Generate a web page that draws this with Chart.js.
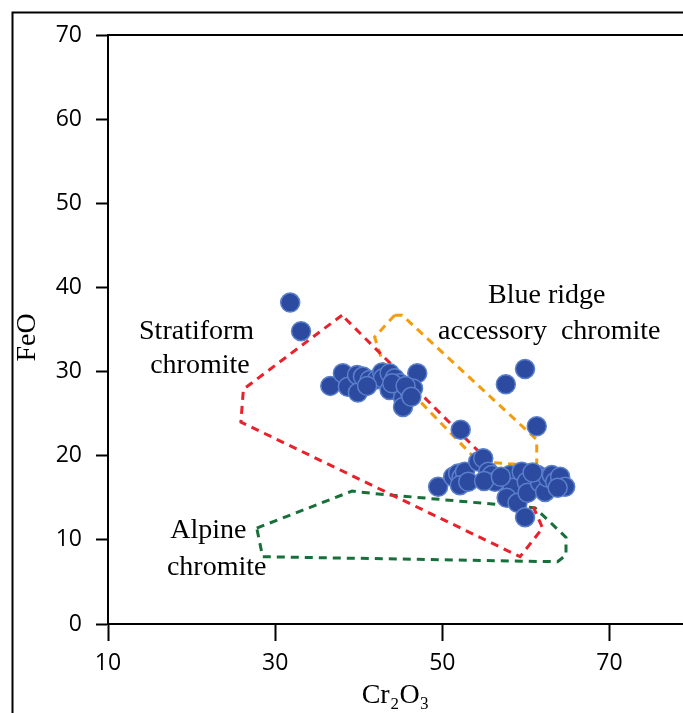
<!DOCTYPE html>
<html>
<head>
<meta charset="utf-8">
<script src="https://cdn.jsdelivr.net/npm/chart.js@4.4.0/dist/chart.umd.min.js"></script>
<style>
  html, body { margin: 0; padding: 0; background: #fff; overflow: hidden; }
  #wrap { width: 683px; height: 713px; }
</style>
</head>
<body>
<div id="wrap"><canvas id="c" width="683" height="713"></canvas></div>
<script>
// ---- Data (Cr2O3 wt%, FeO wt%) ----
const xTicks = [10, 30, 50, 70];
const yTicks = [0, 10, 20, 30, 40, 50, 60, 70];
const xTitle = 'Cr₂O₃';
const yTitle = 'FeO';

const sampleCr2O3 = [
  31.8, 33.1, 52.2, 57.6, 59.9, 61.3,
  36.6, 38.1, 38.7, 39.8, 39.9, 40.5, 41.3, 42.2, 42.8, 42.9, 43.7, 44.3, 43.7, 44.9,
  45.3, 46.1, 45.3, 47.0, 46.5, 41.0, 44.0, 45.6, 46.3,
  49.5, 51.3, 51.9, 52.3, 52.7, 52.1, 53.1, 54.3, 54.9, 55.5, 55.9, 56.3, 58.1, 58.4,
  57.7, 59.0, 59.9, 59.5, 60.1, 60.2, 61.4, 61.7, 62.3, 62.6, 63.1, 63.5, 64.1, 64.7,
  63.8, 55.0, 57.0, 60.8
];
const sampleFeO = [
  38.2, 34.8, 23.1, 28.5, 30.3, 23.5,
  28.3, 29.8, 28.2, 29.6, 27.5, 29.4, 29.0, 29.1, 29.9, 29.2, 29.8, 29.2, 27.8, 28.6,
  26.9, 27.6, 25.8, 29.8, 28.0, 28.3, 28.6, 28.3, 27.0,
  16.3, 17.5, 17.9, 17.4, 18.1, 16.5, 16.9, 19.3, 19.7, 18.1, 17.7, 16.9, 17.7, 16.2,
  15.0, 14.4, 12.7, 18.1, 16.9, 15.6, 17.7, 16.8, 15.7, 17.4, 17.7, 16.9, 17.5, 16.3,
  16.2, 17.0, 17.5, 18.0
];

// Field outlines (closed polygons)
const stratiformCr2O3 = [38.0, 26.2, 25.9, 59.3, 62.0, 60.8, 38.0];
const stratiformFeO   = [36.7, 27.9, 24.0,  8.0, 11.4, 14.1, 36.7];

const blueRidgeCr2O3 = [44.3, 41.9, 42.9, 54.3, 61.3, 61.3, 45.2, 44.3];
const blueRidgeFeO   = [36.7, 34.1, 31.0, 19.3, 18.8, 21.9, 36.7, 36.7];

const alpineCr2O3 = [27.8, 39.2, 41.9, 61.1, 64.8, 64.8, 63.8, 28.5, 27.8];
const alpineFeO   = [11.4, 15.8, 15.5, 13.8, 10.3,  8.2,  7.4,  8.0, 11.4];

const zip = (xs, ys) => xs.map((x, i) => ({ x: x, y: ys[i] }));

const fieldLabels = [
  { text: 'Stratiform', x: 20.6, y: 34.8 },
  { text: 'chromite', x: 21.0, y: 30.7 },
  { text: 'Blue ridge', x: 62.5, y: 39.0 },
  { text: 'accessory  chromite', x: 62.8, y: 34.8 },
  { text: 'Alpine', x: 22.0, y: 11.05 },
  { text: 'chromite', x: 23.0, y: 6.66 }
];

const serif = '28px "Liberation Serif", "Times New Roman", serif';

const decor = {
  id: 'decor',
  beforeDraw(chart) {
    const ctx = chart.ctx;
    ctx.save();
    ctx.strokeStyle = '#000';
    ctx.lineWidth = 2;
    ctx.beginPath();
    ctx.moveTo(12.5, 713);
    ctx.lineTo(12.5, 12.5);
    ctx.lineTo(683, 12.5);
    ctx.stroke();
    ctx.restore();
  },
  afterDraw(chart) {
    const ctx = chart.ctx;
    const a = chart.chartArea;
    ctx.save();
    ctx.strokeStyle = '#000';
    ctx.lineWidth = 2;
    ctx.beginPath();
    ctx.moveTo(a.left, a.top);
    ctx.lineTo(a.right, a.top);
    ctx.stroke();
    const xs = chart.scales.x, ys = chart.scales.y;
    ctx.fillStyle = '#000';
    ctx.font = serif;
    ctx.textAlign = 'center';
    ctx.textBaseline = 'middle';
    fieldLabels.forEach(l => {
      ctx.fillText(l.text, xs.getPixelForValue(l.x), ys.getPixelForValue(l.y));
    });
    // y-axis title, slightly below the axis centre as in the original
    ctx.translate(28, (a.top + a.bottom) / 2 + 8);
    ctx.rotate(-Math.PI / 2);
    ctx.fillText(yTitle, 0, 0);
    ctx.restore();
  }
};

const dash = [8, 6];
new Chart(document.getElementById('c'), {
  type: 'scatter',
  data: {
    datasets: [
      {
        label: 'Samples',
        data: zip(sampleCr2O3, sampleFeO),
        backgroundColor: '#2C4A9F',
        borderColor: '#5A7FCB',
        borderWidth: 1.5,
        pointRadius: 9.5,
        pointHoverRadius: 9.5,
        order: 0
      },
      {
        label: 'Stratiform',
        data: zip(stratiformCr2O3, stratiformFeO),
        showLine: true, pointRadius: 0, borderColor: '#E8212B', borderWidth: 3,
        borderDash: dash, fill: false, order: 1
      },
      {
        label: 'Blue ridge',
        data: zip(blueRidgeCr2O3, blueRidgeFeO),
        showLine: true, pointRadius: 0, borderColor: '#F39C0C', borderWidth: 3,
        borderDash: dash, fill: false, order: 1
      },
      {
        label: 'Alpine',
        data: zip(alpineCr2O3, alpineFeO),
        showLine: true, pointRadius: 0, borderColor: '#17703A', borderWidth: 3,
        borderDash: dash, fill: false, order: 1
      }
    ]
  },
  options: {
    responsive: false,
    animation: false,
    events: [],
    layout: { autoPadding: false, padding: { top: 35, left: 0, right: 0, bottom: 0 } },
    plugins: { legend: { display: false }, tooltip: { enabled: false } },
    scales: {
      x: {
        type: 'linear',
        min: 10, max: 78.8,
        afterBuildTicks: s => { s.ticks = xTicks.map(v => ({ value: v })); },
        afterFit: s => { s.height = 89; s.paddingLeft = 0; s.paddingRight = 0; },
        border: { display: true, color: '#000', width: 2 },
        grid: { display: true, drawOnChartArea: false, drawTicks: true, tickLength: 17, tickColor: '#000', tickWidth: 2 },
        ticks: { color: '#000', padding: 9, font: { family: '"Open Sans", sans-serif', size: 23 } },
        title: { display: true, text: xTitle, color: '#000', padding: 1,
                 font: { family: '"Liberation Serif", "Times New Roman", serif', size: 28 } }
      },
      y: {
        type: 'linear',
        min: 0, max: 70,
        afterBuildTicks: s => { s.ticks = yTicks.map(v => ({ value: v })); },
        afterFit: s => { s.width = 108; },
        border: { display: true, color: '#000', width: 2 },
        grid: { display: true, drawOnChartArea: false, drawTicks: true, tickLength: 12, tickColor: '#000', tickWidth: 2 },
        ticks: { color: '#000', padding: 14, font: { family: '"Open Sans", sans-serif', size: 23 } },
        title: { display: false }
      }
    }
  },
  plugins: [decor]
});
</script>
</body>
</html>
